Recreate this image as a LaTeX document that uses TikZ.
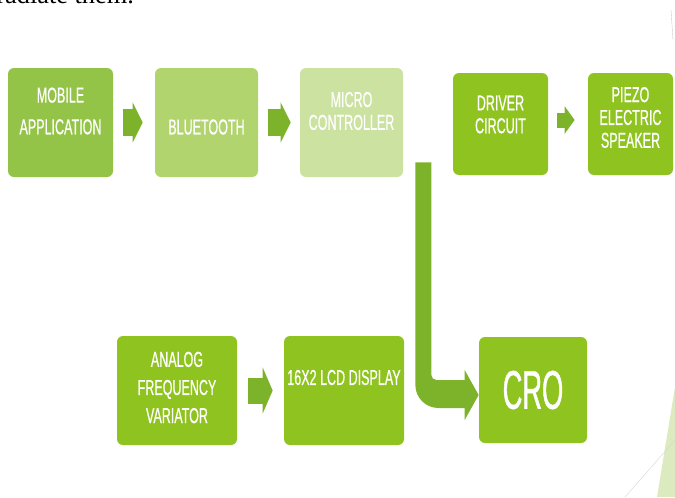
\documentclass[tikz,border=0pt]{standalone}
\usepackage{fontspec}
\setmainfont{Liberation Serif}
\newfontfamily\boxfont[FakeStretch=0.58, FakeBold=0.6]{Liberation Sans}
\newfontfamily\crofont[FakeStretch=0.5, FakeBold=0.8]{Liberation Sans}
\usetikzlibrary{arrows.meta,calc}

\definecolor{mobilegreen}{HTML}{93C447}
\definecolor{bluegreen}{HTML}{B2D46E}
\definecolor{microgreen}{HTML}{CBE2A0}
\definecolor{leafgreen}{HTML}{8FC31F}
\definecolor{arrowgreen}{HTML}{7DB22B}
\definecolor{facetgreen}{HTML}{DCEBBF}

\tikzset{
  box/.style={fill=#1, rounded corners=0.12cm, inner sep=0pt},
  boxsize/.style 2 args={minimum width=#1*0.02cm, minimum height=#2*0.02cm},
  boxtext/.style={text=white, font=\boxfont\fontsize{12.3}{13}\selectfont, align=center},
  bigarrow/.style={arrowgreen, line width=0.54cm, -{Triangle[length=0.2cm,width=0.8cm]}},
  smallarrow/.style={arrowgreen, line width=0.3cm, -{Triangle[length=0.2cm,width=0.54cm]}},
}

\begin{document}
\begin{tikzpicture}[x=0.02cm, y=-0.02cm]
  \useasboundingbox (0,0) rectangle (675,497);

  % slide text cut at the top, and the theme facets
  \node[font=\fontsize{15}{18}\selectfont, anchor=base west, inner sep=0pt] (cutline) at (-4,4) {radiate them.};
  \fill[facetgreen] (657,497) -- (675,387) -- (675,497) -- cycle;
  \draw[gray!35, very thin] (625,497) -- (675,440);
  \draw[gray!45, very thin] (671,10) -- (673,40);

  % top row
  \node[box=mobilegreen, boxsize={105}{109}, label={[name=mobiletext, boxtext, yshift=0.23cm]center:MOBILE\\[5pt]APPLICATION}] (mobile) at (60.5,122.5) {};
  \node[box=bluegreen, boxsize={103}{109}, label={[name=bluetext, boxtext, yshift=-0.09cm]center:BLUETOOTH}] (bluetooth) at (206.5,122.5) {};
  \node[box=microgreen, boxsize={103}{109}, label={[name=microtext, boxtext, yshift=0.23cm]center:MICRO\\CONTROLLER}] (micro) at (351.5,122.5) {};
  \node[box=leafgreen, boxsize={95}{102}, label={[name=drivertext, boxtext, yshift=0.19cm]center:DRIVER\\CIRCUIT}] (driver) at (500.5,124) {};
  \node[box=leafgreen, boxsize={85}{102}, label={[name=piezotext, boxtext, yshift=0.13cm]center:PIEZO\\ELECTRIC\\SPEAKER}] (piezo) at (630.5,124) {};

  % bottom row
  \node[box=leafgreen, boxsize={120}{109}, label={[name=analogtext, boxtext, yshift=0.06cm]center:ANALOG\\[3pt]FREQUENCY\\[3pt]VARIATOR}] (analog) at (177,390.5) {};
  \node[box=leafgreen, boxsize={120}{109}, label={[name=lcdtext, boxtext, yshift=0.26cm]center:16X2 LCD DISPLAY}] (lcd) at (344,390.5) {};
  \node[box=leafgreen, boxsize={108}{106}] (cro) at (533,390) {\color{white}\crofont\fontsize{31}{31}\selectfont CRO};

  % block arrows
  \draw[bigarrow] ($(mobile.east)+(10,0)$) -- ($(bluetooth.west)+(-12,0)$);
  \draw[bigarrow] ($(bluetooth.east)+(10,0)$) -- ($(micro.west)+(-9,0)$);
  \draw[smallarrow] ($(driver.east)+(9,-4)$) -- ($(piezo.west)+(-13,-4)$);
  \draw[arrowgreen, line width=0.52cm, -{Triangle[length=0.2cm,width=0.92cm]}] ($(analog.east)+(11,0)$) -- ($(lcd.west)+(-11,0)$);

  % bent arrow from the controller down to the CRO
  \coordinate (drop) at ($(micro.south east)+(12,-15)$);
  \coordinate (tip) at ($(cro.west)+(0,5)$);
  \fill[arrowgreen] (drop) [rounded corners=0.46cm] -- ($(drop |- tip)+(0,13)$)
    [sharp corners] -- ($(tip)+(-14,13)$) -- ($(tip)+(-14,25)$) -- (tip)
    -- ($(tip)+(-14,-25)$) -- ($(tip)+(-14,-15)$)
    [rounded corners=0.1cm] -- ($(drop |- tip)+(16,-15)$)
    [sharp corners] -- ($(drop)+(16,0)$) -- cycle;
\end{tikzpicture}
\end{document}
